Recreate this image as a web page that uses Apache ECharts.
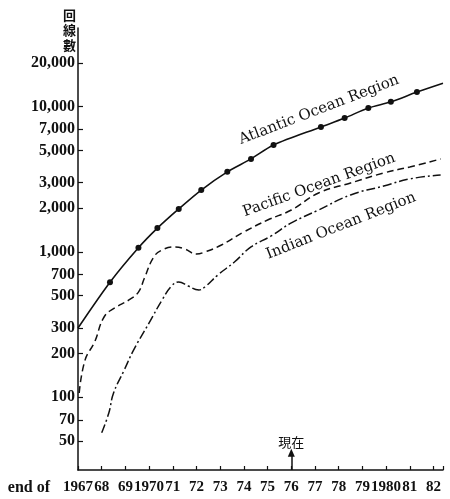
<!DOCTYPE html>
<html>
<head>
<meta charset="utf-8">
<script src="https://cdn.jsdelivr.net/npm/echarts@6/dist/echarts.min.js"></script>
<style>
html,body{margin:0;padding:0;background:#fff;}
#chart{width:450px;height:499px;}
</style>
</head>
<body>
<div id="chart"></div>
<script>
// ---- data ----
const xTickLabels = ['1967','68','69','1970','71','72','73','74','75','76','77','78','79','1980','81','82'];
const yTickValues = [50, 70, 100, 200, 300, 500, 700, 1000, 2000, 3000, 5000, 7000, 10000, 20000];

const atlanticX = [1967, 1968.35, 1969.55, 1970.35, 1971.25, 1972.2, 1973.3, 1974.3, 1975.25, 1977.25, 1978.25, 1979.25, 1980.2, 1981.3, 1982.4];
const atlanticY = [300, 620, 1070, 1460, 1980, 2670, 3560, 4370, 5450, 7250, 8350, 9800, 10800, 12600, 14500];
const atlanticDot = [false, true, true, true, true, true, true, true, true, true, true, true, true, true, false];

const pacificX = [1967.05, 1967.3, 1967.7, 1968.1, 1968.55, 1969.15, 1969.55, 1969.8, 1970.2, 1970.55, 1971.1, 1971.5, 1972.0, 1972.35, 1973.05, 1974.0, 1975.0, 1976.0, 1977.15, 1978.5, 1979.9, 1981.0, 1982.3];
const pacificY = [107, 181, 240, 357, 412, 468, 530, 660, 925, 1033, 1083, 1050, 968, 1000, 1117, 1374, 1660, 1945, 2547, 2985, 3499, 3848, 4369];

const indianX = [1968.0, 1968.3, 1968.5, 1968.95, 1969.35, 1970.0, 1970.55, 1970.95, 1971.25, 1971.65, 1972.1, 1972.35, 1972.9, 1973.6, 1974.3, 1975.15, 1976.0, 1977.15, 1978.5, 1979.9, 1981.0, 1982.3];
const indianY = [57, 78, 107, 154, 212, 325, 468, 583, 622, 583, 548, 574, 695, 853, 1083, 1289, 1585, 1945, 2470, 2845, 3184, 3388];

const seriesNames = ['Atlantic Ocean Region', 'Pacific Ocean Region', 'Indian Ocean Region'];
const presentYear = 1976;
const presentLabel = '現在';
const yAxisName = '回\n線\n數';
const xAxisName = 'end of';

// ---- presentation ----
const INK = '#111';
const SERIF = '"Liberation Serif", "DejaVu Serif", serif';
const labelAnchors = [ // [year, value, rotation deg] for series name annotations
  [1977.17, 9500, 21],
  [1977.17, 2890, 20],
  [1978.1, 1510, 21.5]
];

function pairs(xs, ys) { return xs.map((x, i) => [x, ys[i]]); }

const chart = echarts.init(document.getElementById('chart'), null, {renderer: 'canvas'});

const atlanticData = atlanticX.map((x, i) => ({
  value: [x, atlanticY[i]],
  symbol: atlanticDot[i] ? 'circle' : 'none'
}));

const option = {
  backgroundColor: '#fff',
  animation: false,
  grid: {left: 78, right: 7, top: 28, bottom: 29, containLabel: false, outerBoundsMode: 'none'},
  xAxis: {
    type: 'value',
    min: 1967,
    max: 1982.4,
    interval: 1,
    name: xAxisName,
    nameLocation: 'start',
    nameGap: 28,
    nameTextStyle: {color: INK, fontFamily: SERIF, fontSize: 16, fontWeight: 'bold', verticalAlign: 'top', lineHeight: 36},
    axisLine: {show: true, lineStyle: {color: INK, width: 1.5}},
    axisTick: {show: true, inside: true, length: 4, lineStyle: {color: INK, width: 1.2}},
    axisLabel: {
      color: INK, fontFamily: SERIF, fontSize: 15, fontWeight: 'bold', margin: 10,
      showMinLabel: true,
      hideOverlap: false,
      formatter: v => {
        const i = Math.round(v) - 1967;
        return (Math.abs(v - Math.round(v)) < 1e-6 && xTickLabels[i] !== undefined) ? xTickLabels[i] : '';
      }
    },
    splitLine: {show: false}
  },
  yAxis: {
    type: 'log',
    logBase: 10,
    min: 31.6,
    max: 34800,
    name: yAxisName,
    nameLocation: 'end',
    nameGap: -25,
    nameTextStyle: {color: INK, fontFamily: '"Noto Sans CJK JP", sans-serif', fontSize: 13, fontWeight: 'bold', lineHeight: 15, align: 'right', padding: [0, 2, 0, 0]},
    axisLine: {show: true, lineStyle: {color: INK, width: 1.5}},
    axisTick: {show: true, inside: true, length: 5, customValues: yTickValues, lineStyle: {color: INK, width: 1.2}},
    axisLabel: {
      color: INK, fontFamily: SERIF, fontSize: 16, fontWeight: 'bold', margin: 3,
      customValues: yTickValues,
      formatter: v => Math.round(v).toLocaleString('en-US')
    },
    splitLine: {show: false},
    minorTick: {show: false}
  },
  series: [
    {
      name: seriesNames[0],
      type: 'line',
      data: atlanticData,
      smooth: 0.3,
      symbolSize: 6,
      itemStyle: {color: INK},
      lineStyle: {color: INK, width: 1.6, type: 'solid'},
      z: 3,
      markLine: {
        silent: true,
        symbol: ['none', 'triangle'],
        symbolSize: [7, 8],
        lineStyle: {color: INK, width: 1.5, type: 'solid'},
        label: {show: true, position: 'end', formatter: presentLabel, color: INK, fontFamily: '"Noto Sans CJK JP", sans-serif', fontSize: 13, distance: 4},
        data: [[{coord: [presentYear, 31.6]}, {coord: [presentYear, 41.5]}]]
      }
    },
    {
      name: seriesNames[1],
      type: 'line',
      data: pairs(pacificX, pacificY),
      smooth: 0.45,
      showSymbol: false,
      symbol: 'none',
      lineStyle: {color: INK, width: 1.5, type: [7, 4]}
    },
    {
      name: seriesNames[2],
      type: 'line',
      data: pairs(indianX, indianY),
      smooth: 0.45,
      showSymbol: false,
      symbol: 'none',
      lineStyle: {color: INK, width: 1.5, type: [9, 3, 2, 3]}
    }
  ]
};

chart.setOption(option);

// series name annotations placed through the axes' scales
const graphics = seriesNames.map((name, i) => {
  const a = labelAnchors[i];
  const p = chart.convertToPixel({gridIndex: 0}, [a[0], a[1]]);
  return {
    type: 'text',
    x: p[0], y: p[1],
    rotation: a[2] * Math.PI / 180,
    style: {text: name, fill: INK, font: '15px "DejaVu Serif", serif', align: 'center', verticalAlign: 'middle'}
  };
});
chart.setOption({graphic: graphics});
</script>
</body>
</html>
